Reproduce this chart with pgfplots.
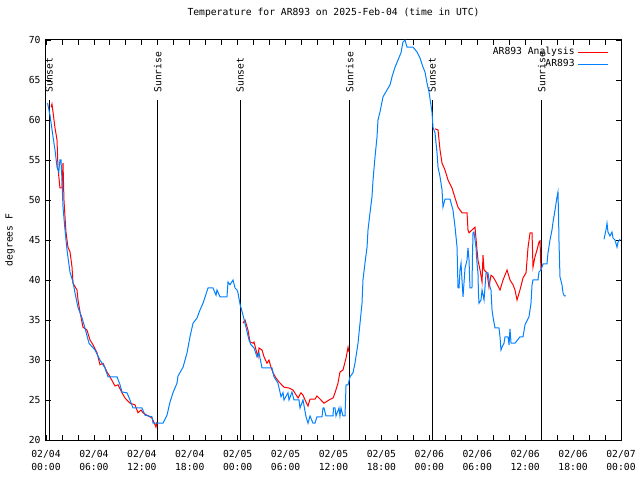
\documentclass[border=0pt]{standalone}
\usepackage{fontspec}
\setmainfont{DejaVu Sans Mono}
\usepackage{pgfplots}
\pgfplotsset{compat=1.18}
\definecolor{gpred}{RGB}{255,0,0}
\definecolor{gpblue}{RGB}{0,128,255}
\newcommand{\gpfont}{\fontsize{9.7bp}{12bp}\selectfont}
\newcommand{\gpxfont}{\fontsize{9.7bp}{12.7bp}\selectfont}
\begin{document}
\begin{tikzpicture}
\useasboundingbox (-46bp,-40bp) rectangle (594bp,440bp);
\begin{axis}[
  at={(0,0)}, anchor=south west,
  scale only axis, width=575bp, height=400bp,
  xmin=0, xmax=72, ymin=20, ymax=70,
  xtick={0,6,...,72},
  minor xtick={2,4,8,10,14,16,20,22,26,28,32,34,38,40,44,46,50,52,56,58,62,64,68,70},
  xticklabels={{02/04\\00:00},{02/04\\06:00},{02/04\\12:00},{02/04\\18:00},{02/05\\00:00},{02/05\\06:00},{02/05\\12:00},{02/05\\18:00},{02/06\\00:00},{02/06\\06:00},{02/06\\12:00},{02/06\\18:00},{02/07\\00:00}},
  ytick={20,25,...,70},
  /pgf/number format/assume math mode=true,
  tick align=inside,
  major tick length=5bp, minor tick length=5bp,
  every tick/.style={black, line width=0.8bp},
  axis line style={line width=1bp},
  xticklabel style={align=center, font=\gpxfont, yshift=-7bp},
  yticklabel style={font=\gpfont, xshift=-2bp},
  ylabel={degrees F},
  ylabel style={font=\gpfont, at={(axis description cs:-0.0626,0.5)}, anchor=center},
  title={Temperature for AR893 on 2025-Feb-04 (time in UTC)},
  title style={font=\gpfont, at={(axis description cs:0.5,1)}, anchor=center, yshift=21bp},
  unbounded coords=jump,
  legend plot pos=right,
  legend cell align=right,
  legend image code/.code={\draw[#1] (0bp,0bp) -- (30bp,0bp);},
  legend style={draw=none, fill=none, font=\gpfont,
    at={(rel axis cs:0.984,0.99)}, anchor=north east,
    nodes={inner xsep=3bp, inner ysep=1bp, text height=7.5bp, text depth=2.5bp},
    row sep=0bp},
]
% sunrise / sunset lines
\addplot[black, line width=0.9bp, forget plot] coordinates {(0.38,20) (0.38,62.5)};
\addplot[black, line width=0.9bp, forget plot] coordinates {(14.0,20) (14.0,62.5)};
\addplot[black, line width=0.9bp, forget plot] coordinates {(24.3,20) (24.3,62.5)};
\addplot[black, line width=0.9bp, forget plot] coordinates {(38.05,20) (38.05,62.5)};
\addplot[black, line width=0.9bp, forget plot] coordinates {(48.33,20) (48.33,62.5)};
\addplot[black, line width=0.9bp, forget plot] coordinates {(62.08,20) (62.08,62.5)};
\node[rotate=90, anchor=west, inner sep=0pt, font=\gpfont] at (axis cs:0.38,63.4) {Sunset};
\node[rotate=90, anchor=west, inner sep=0pt, font=\gpfont] at (axis cs:14.0,63.4) {Sunrise};
\node[rotate=90, anchor=west, inner sep=0pt, font=\gpfont] at (axis cs:24.3,63.4) {Sunset};
\node[rotate=90, anchor=west, inner sep=0pt, font=\gpfont] at (axis cs:38.05,63.4) {Sunrise};
\node[rotate=90, anchor=west, inner sep=0pt, font=\gpfont] at (axis cs:48.33,63.4) {Sunset};
\node[rotate=90, anchor=west, inner sep=0pt, font=\gpfont] at (axis cs:62.08,63.4) {Sunrise};
% AR893 Analysis
\addplot[gpred, line width=1bp] coordinates {
(0.63,61.6) (0.75,62) (1.13,59) (1.38,57.5) (1.5,54) (1.75,51.5) (2.0,51.5) (2.05,52.5) (2.13,54.6)
(2.25,50) (2.38,47.9) (2.5,46) (2.75,44.1) (3.01,43.5) (3.26,41.6) (3.38,39.6) (3.88,38.75) (4.01,37.5)
(4.26,36) (4.63,34.1) (5.13,33.75) (5.51,32.5) (5.89,31.9) (6.39,30.9) (6.76,29.4) (7.14,29.6) (7.64,28.5)
(8.01,27.9) (8.64,26.75) (9.02,26.9) (9.52,25.9) (9.89,25.25) (10.52,24.6) (11.14,24.4) (11.52,23.4)
(11.9,23.75) (12.15,23.4) (12.65,23.1) (13.27,22.75) (13.65,21.9) (13.77,21.6) (13.9,22.25)
(14.2,nan)
(24.67,34.6) (24.92,35) (25.29,33.75) (25.55,32.25) (25.92,32.1) (26.05,32.25) (26.3,31.25) (26.55,30.4)
(26.67,31.5) (27.05,31.25) (27.3,30.4) (27.67,29.6) (27.92,30) (28.17,29.1) (28.43,28.4) (28.8,27.75)
(29.18,27.25) (29.8,26.6) (30.43,26.5) (30.93,26.25) (31.56,25.25) (31.93,25.9) (32.18,25.6) (32.56,24.75)
(32.81,24.25) (33.06,25.1) (33.68,25.1) (33.93,25.5) (34.19,25.25) (34.81,24.6) (35.44,25) (35.94,25.25)
(36.19,25.9) (36.56,27.1) (36.81,28.5) (37.19,28.75) (37.57,30.25) (37.82,31.6) (37.94,31)
(38.5,nan)
(48.71,58.9) (49.09,58.75) (49.34,56.25) (49.59,54.6) (49.96,53.75) (50.34,52.5) (50.84,51.5) (51.22,50.25)
(51.59,49.1) (52.09,48.4) (52.72,48.4) (52.84,46.25) (52.97,45.9) (53.34,46.25) (53.72,46.6) (53.97,43.75)
(54.09,42.5) (54.35,41.25) (54.6,39.75) (54.72,43.1) (54.85,41.25) (55.22,40.9) (55.47,39.1) (55.72,40.6)
(55.97,40.4) (56.35,39.75) (56.85,38.75) (57.23,40) (57.73,41.25) (58.1,40) (58.48,39.4) (58.73,38.75)
(58.98,37.5) (59.35,38.75) (59.73,40.25) (60.11,40.9) (60.36,44.1) (60.61,45.9) (60.86,45.9) (60.98,41.6)
(61.23,42.9) (61.48,43.75) (61.73,44.75) (61.86,44.9) (61.98,41.25)
};
\addlegendentry{AR893 Analysis}
% AR893
\addplot[gpblue, line width=1bp] coordinates {
(0.2,62.1) (0.5,60.6) (0.88,57.9) (1.13,56.25) (1.38,54.1) (1.6,53.5) (1.75,55) (1.88,55) (2.0,52.5)
(2.13,49.1) (2.38,46.25) (2.63,43.75) (3.0,41) (3.38,39.75) (3.63,38.4) (4.0,36.6) (4.51,35.25) (4.88,34)
(5.38,32.1) (6.14,31.25) (6.76,30) (7.39,29) (7.76,27.9) (8.89,27.9) (9.27,26.9) (9.52,26) (10.14,25.9)
(10.52,25) (10.89,24) (12.02,24) (12.4,23.1) (13.27,22.9) (13.4,22.1) (14.65,22.1) (15.15,23.1)
(15.53,24.75) (15.9,25.9) (16.4,27.1) (16.53,28) (17.16,29.1) (17.66,30.9) (18.03,32.9) (18.41,34.6)
(18.91,35.25) (19.28,36.25) (19.66,37.1) (20.29,39) (20.91,39) (21.29,38.1) (21.41,38.75) (21.79,37.9)
(22.66,37.9) (22.79,39.75) (23.04,39.4) (23.42,40) (23.67,39) (23.92,38.75) (24.04,38.4) (24.29,37)
(24.67,35.6) (25.04,34.1) (25.42,32.5) (25.67,31.9) (26.05,31.5) (26.42,30.4) (26.67,30.9) (27.05,29)
(28.3,29) (28.55,27.9) (29.05,27.1) (29.43,25.4) (29.68,25.9) (29.8,25) (30.3,25.9) (30.43,25) (30.8,26)
(31.05,25) (31.68,25) (31.81,24) (32.18,25) (32.56,22.9) (32.81,22.1) (33.06,23) (33.43,22.1) (33.68,22.1)
(33.93,22.9) (34.56,22.9) (34.69,24) (34.81,24) (35.06,23) (35.94,23) (36.0,24) (36.19,24) (36.31,23)
(36.69,24) (36.81,23) (36.94,24) (37.19,23) (37.44,23) (37.57,26.9) (37.82,26.9) (38.07,27.9) (38.44,28.4)
(38.69,29.6) (39.07,32.1) (39.32,34.6) (39.57,37.1) (39.69,40) (39.94,42.1) (40.2,44.1) (40.32,46.25)
(40.57,48.4) (40.82,50.4) (40.95,52.5) (41.2,55.4) (41.45,57.9) (41.57,60) (41.82,61) (42.2,62.9)
(42.7,63.75) (43.08,64.4) (43.33,65.4) (43.7,66.6) (44.08,67.5) (44.45,68.4) (44.7,69.75) (44.95,70)
(45.21,69.1) (45.96,69.1) (46.46,68.5) (46.83,67.75) (47.21,66.6) (47.46,66) (47.71,64.6) (47.96,63.5)
(48.33,61) (48.46,59.1) (48.71,58.4) (48.96,55.9) (49.09,54.1) (49.34,52.9) (49.59,51.25) (49.71,49.1)
(49.96,50.1) (50.59,50.1) (50.96,48.75) (51.22,46.6) (51.47,44.1) (51.59,39) (51.72,39) (51.84,41.25)
(51.97,42.1) (52.09,40) (52.22,37.9) (52.47,41.5) (52.72,42.5) (52.84,44) (52.97,42.5) (53.09,39)
(53.34,39) (53.4,42.9) (53.47,45.9) (53.59,46) (53.84,44.1) (53.97,42.1) (54.09,40.9) (54.15,38.4)
(54.22,37.1) (54.47,37.5) (54.6,38.75) (54.85,37.5) (54.97,39.1) (55.1,40.9) (55.35,40.9) (55.6,39.1)
(55.72,38.75) (55.85,36.25) (55.97,35.4) (56.22,34) (56.72,34) (56.85,32.9) (56.97,31.25) (57.1,31.6)
(57.35,32.1) (57.48,32.9) (57.85,32.9) (57.98,31.9) (58.1,33.9) (58.23,32.1) (58.73,32.1) (59.35,32.9)
(59.73,32.9) (59.98,34.4) (60.48,35.4) (60.73,37.1) (60.86,39.4) (60.98,40) (61.61,40) (61.73,41)
(61.98,41.25) (62.23,42) (62.73,42) (62.86,43.4) (63.11,45) (63.36,46.25) (63.49,47.25) (63.74,48.75)
(63.99,50.4) (64.11,51) (64.17,48.5) (64.24,44.6) (64.36,40.4) (64.61,39.4) (64.74,38.4) (64.9,38)
(65.11,38)
(66,nan)
(69.87,45.1) (70.12,46.25) (70.25,47.1) (70.37,46) (70.62,45.5) (70.87,46) (71.0,45.25) (71.25,45)
(71.5,44.1) (71.63,44.75) (71.88,45.1)
};
\addlegendentry{AR893}
\end{axis}
\end{tikzpicture}
\end{document}
